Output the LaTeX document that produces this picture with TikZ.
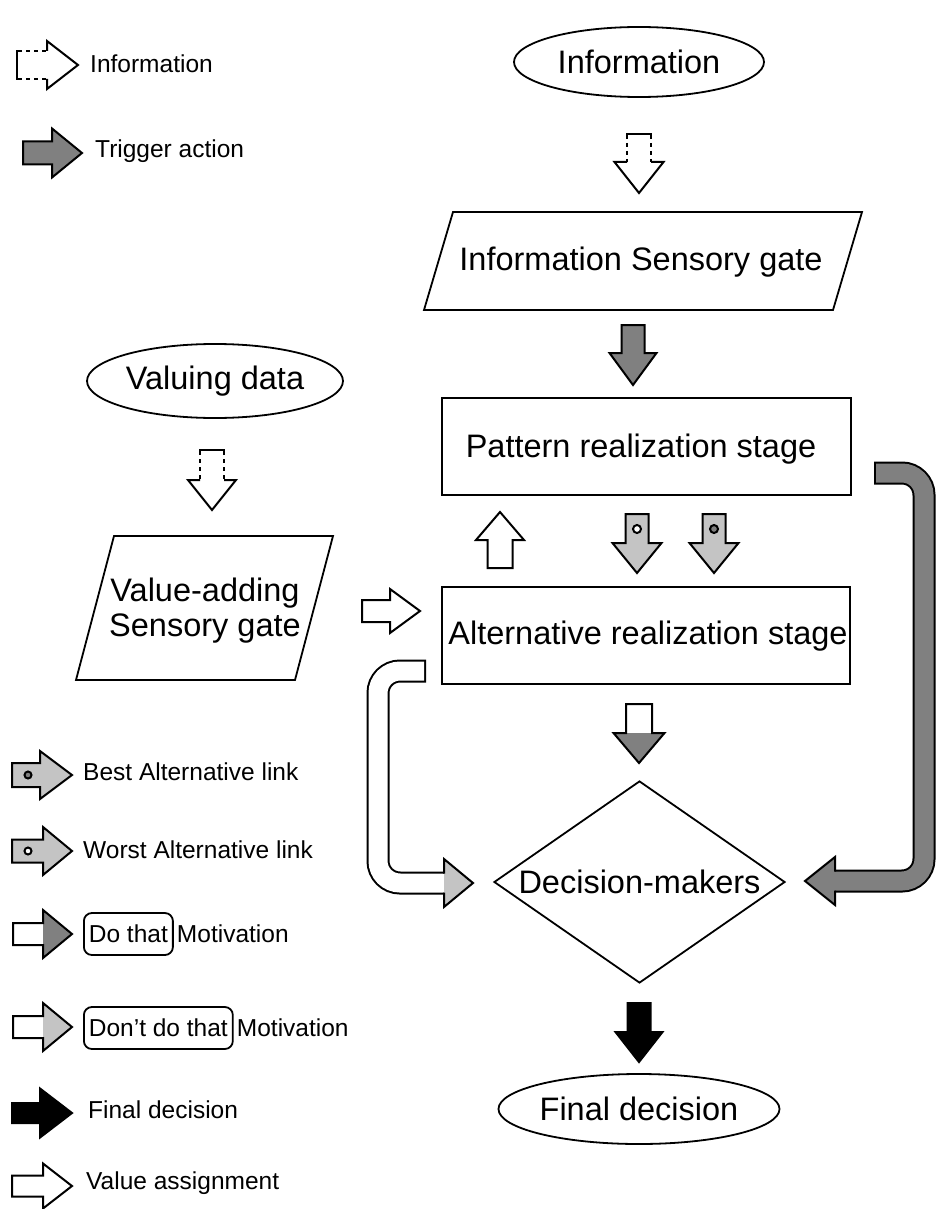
\documentclass[tikz,border=0pt]{standalone}
\usepackage{fontspec}
\setmainfont{Liberation Sans}
\usetikzlibrary{shapes.geometric}
\definecolor{dgray}{HTML}{808080}
\definecolor{lgray}{HTML}{C4C4C4}
\newcommand\mainfs{\fontsize{32.5pt}{35pt}\selectfont}
\newcommand\legfs{\fontsize{24.5pt}{29pt}\selectfont}
\tikzset{
  arrline/.style={line width=2pt, line join=miter},
  shapeline/.style={line width=1.8pt},
  box/.style={draw, line width=1.8pt, inner sep=0pt, font=\mainfs},
  legtext/.style={anchor=west, inner sep=0pt, font=\legfs},
}
% block arrow: #1 position, #2 angle, #3 length, #4 head length, #5 half shaft, #6 half head, #7 shaft fill, #8 head fill
\newcommand\BArrow[8]{%
  \begin{scope}[shift={#1}, rotate=#2]
    \fill[#7] (0,-#5) -- (#3-#4,-#5) -- (#3-#4,-#6) -- (#3,0) -- (#3-#4,#6) -- (#3-#4,#5) -- (0,#5) -- cycle;
    \fill[#8] (#3-#4,-#6) -- (#3,0) -- (#3-#4,#6) -- cycle;
    \draw[arrline] (0,-#5) -- (#3-#4,-#5) -- (#3-#4,-#6) -- (#3,0) -- (#3-#4,#6) -- (#3-#4,#5) -- (0,#5) -- cycle;
  \end{scope}}
% dashed information arrow: #1 position, #2 angle, #3 length, #4 head length, #5 half shaft, #6 half head
\newcommand\DArrow[6]{%
  \begin{scope}[shift={#1}, rotate=#2]
    \fill[white] (0,-#5) -- (#3-#4,-#5) -- (#3-#4,-#6) -- (#3,0) -- (#3-#4,#6) -- (#3-#4,#5) -- (0,#5) -- cycle;
    \draw[arrline] (#3-#4,-#5) -- (#3-#4,-#6) -- (#3,0) -- (#3-#4,#6) -- (#3-#4,#5);
    \draw[arrline] (5,-#5) -- (0,-#5) -- (0,#5) -- (5,#5);
    \draw[arrline, dash pattern=on 4pt off 4pt] (9,-#5) -- (#3-#4,-#5);
    \draw[arrline, dash pattern=on 4pt off 4pt] (9,#5) -- (#3-#4,#5);
  \end{scope}}
\begin{document}
\begin{tikzpicture}[x=1pt,y=-1pt]
\useasboundingbox[fill=white] (0,0) rectangle (936,1209);

% ---------- main flow ----------
\node[box, ellipse, minimum width=250pt, minimum height=70pt] (info) at (639,62) {Information};
\node[font=\mainfs, inner sep=0pt] (isg) at (641,262) {Information Sensory gate};
\draw[shapeline] (453,212) -- (862,212) -- (833,310) -- (424,310) -- cycle;
\node[box, minimum width=409pt, minimum height=97pt] (pat) at (646.5,446.5) {};
\node[font=\mainfs, inner sep=0pt] (pattxt) at (641,449) {Pattern realization stage};
\node[box, minimum width=408pt, minimum height=97pt] (alt) at (646,635.5) {};
\node[font=\mainfs, inner sep=0pt] (alttxt) at (648,636) {Alternative realization stage};
\node[box, ellipse, minimum width=256pt, minimum height=74pt] (vdata) at (215,381) {Valuing data};
\node[font=\mainfs, align=center, inner sep=0pt] (vsg) at (205,611) {Value-adding\\Sensory gate};
\draw[shapeline] (114,536) -- (333,536) -- (295,680) -- (76,680) -- cycle;
\node[box, diamond, aspect=1.44, minimum width=291pt, minimum height=202pt] (dm) at (639.5,882) {Decision-makers};
\node[box, ellipse, minimum width=250pt, minimum height=70pt] (final) at (639,1109) {Final decision};

% block arrows of the flow
\DArrow{(639,134)}{-90}{59}{31}{12}{24.5}
\BArrow{(633,325)}{-90}{60}{32}{11.5}{23.5}{dgray}{dgray}
\BArrow{(500,568)}{90}{56}{28}{12.5}{24}{white}{white}
\BArrow{(637,514)}{-90}{59}{30}{11.5}{24.5}{lgray}{lgray}
\draw[arrline, fill=white] (637,529) circle (4);
\BArrow{(714,514)}{-90}{59}{30}{11.5}{24.5}{lgray}{lgray}
\draw[arrline, fill=dgray] (714,529) circle (4);
\DArrow{(212,450)}{-90}{60}{30}{12}{24}
\BArrow{(362,611)}{0}{58}{30}{11}{22}{white}{white}
\BArrow{(639,704)}{-90}{59}{30}{13}{25.5}{white}{dgray}
\BArrow{(639,1003)}{-90}{59}{30}{11.5}{23.5}{black}{black}

% curved arrow on the right (trigger action)
\draw[line width=23pt, rounded corners=22pt] (874,473) -- (924,473) -- (924,881) -- (834,881);
\draw[line width=19pt, dgray, rounded corners=22pt] (876,473) -- (924,473) -- (924,881) -- (834,881);
\filldraw[arrline, fill=dgray] (835,871.5) -- (835,857) -- (805,881) -- (835,905) -- (835,890.5);

% curved arrow on the left (don't do that motivation)
\draw[line width=23pt, rounded corners=22pt] (426,671) -- (378,671) -- (378,883) -- (445,883);
\draw[line width=19pt, white, rounded corners=22pt] (424,671) -- (378,671) -- (378,883) -- (445,883);
\filldraw[arrline, fill=lgray] (444,873.5) -- (444,859) -- (473,883) -- (444,907) -- (444,892.5);

% ---------- legend ----------
\DArrow{(17,65)}{0}{61}{31}{14}{24}
\node[legtext] (l1) at (90,64) {Information};
\BArrow{(23,153)}{0}{59}{30}{11.5}{24.5}{dgray}{dgray}
\node[legtext] (l2) at (95,151) {Trigger action};
\BArrow{(12,775)}{0}{60}{32}{12}{24}{lgray}{lgray}
\draw[arrline, fill=dgray] (28,775) circle (3.5);
\node[legtext] (l3) at (83,772) {Best Alternative link};
\BArrow{(12,851)}{0}{60}{29}{11.5}{24}{lgray}{lgray}
\draw[arrline, fill=white] (28,851) circle (3.5);
\node[legtext] (l4) at (83,850) {Worst Alternative link};
\BArrow{(13,934)}{0}{59}{29}{11}{24}{white}{dgray}
\node[legtext, draw, line width=1.8pt, rounded corners=8pt, minimum height=42pt, inner xsep=5pt] (l5) at (83,934) {Do that};
\node[legtext] (l5m) at ([xshift=3pt]l5.east) {Motivation};
\BArrow{(13,1027)}{0}{59}{29}{11}{24}{white}{lgray}
\node[legtext, draw, line width=1.8pt, rounded corners=8pt, minimum height=42pt, inner xsep=5pt] (l6) at (83,1028) {Don\char39 t do that};
\node[legtext] (l6m) at ([xshift=3pt]l6.east) {Motivation};
\BArrow{(12,1113)}{0}{60}{32}{10}{24.5}{black}{black}
\node[legtext] (l7) at (88,1110) {Final decision};
\BArrow{(12,1186)}{0}{60}{29}{10.5}{22.5}{white}{white}
\node[legtext] (l8) at (86,1183) {Value assignment};
\end{tikzpicture}
\end{document}
